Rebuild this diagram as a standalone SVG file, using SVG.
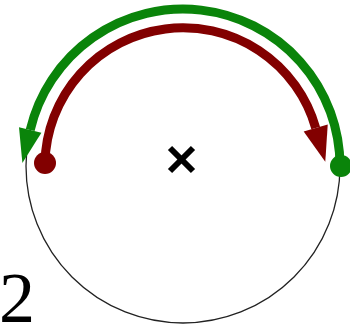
<svg xmlns="http://www.w3.org/2000/svg" width="350" height="325" viewBox="0 0 350 325">
<style>
.arc{fill:none;stroke-width:9;stroke-linecap:butt}
.g{stroke:#0a840a}
.r{stroke:#820000}
.gf{fill:#0a840a}
.rf{fill:#820000}
.x{stroke:#000;stroke-width:6;stroke-linecap:butt}
</style>
<defs>
<marker id="ag" markerUnits="userSpaceOnUse" markerWidth="40" markerHeight="30" refX="0" refY="12" orient="auto" overflow="visible">
<path d="M0,0.5 L34,12 L0,23.5 Z" class="gf"/>
</marker>
<marker id="ar" markerUnits="userSpaceOnUse" markerWidth="40" markerHeight="30" refX="0" refY="12" orient="auto" overflow="visible">
<path d="M0,-0.5 L35,12 L0,24.5 Z" class="rf"/>
</marker>
</defs>
<g id="circle">
<circle cx="183" cy="166" r="157" fill="none" stroke="#222" stroke-width="1.3"/>
</g>
<g id="center">
<line x1="170" y1="148" x2="193" y2="171" class="x"/>
<line x1="193" y1="148" x2="170" y2="171" class="x"/>
</g>
<g id="connectors">
<path d="M340 166 A157 157 0 0 0 30.2 130" class="arc g" marker-end="url(#ag)"/>
<path d="M45 163 A138 138 0 0 1 315.7 128" class="arc r" marker-end="url(#ar)"/>
</g>
<g id="start-green"><circle cx="341" cy="166" r="11" class="gf"/></g>
<g id="start-red"><circle cx="45" cy="163" r="11" class="rf"/></g>
<g id="label">
<text x="-1" y="322" font-family="Liberation Serif, serif" font-size="72" fill="#000">2</text>
</g>
</svg>
